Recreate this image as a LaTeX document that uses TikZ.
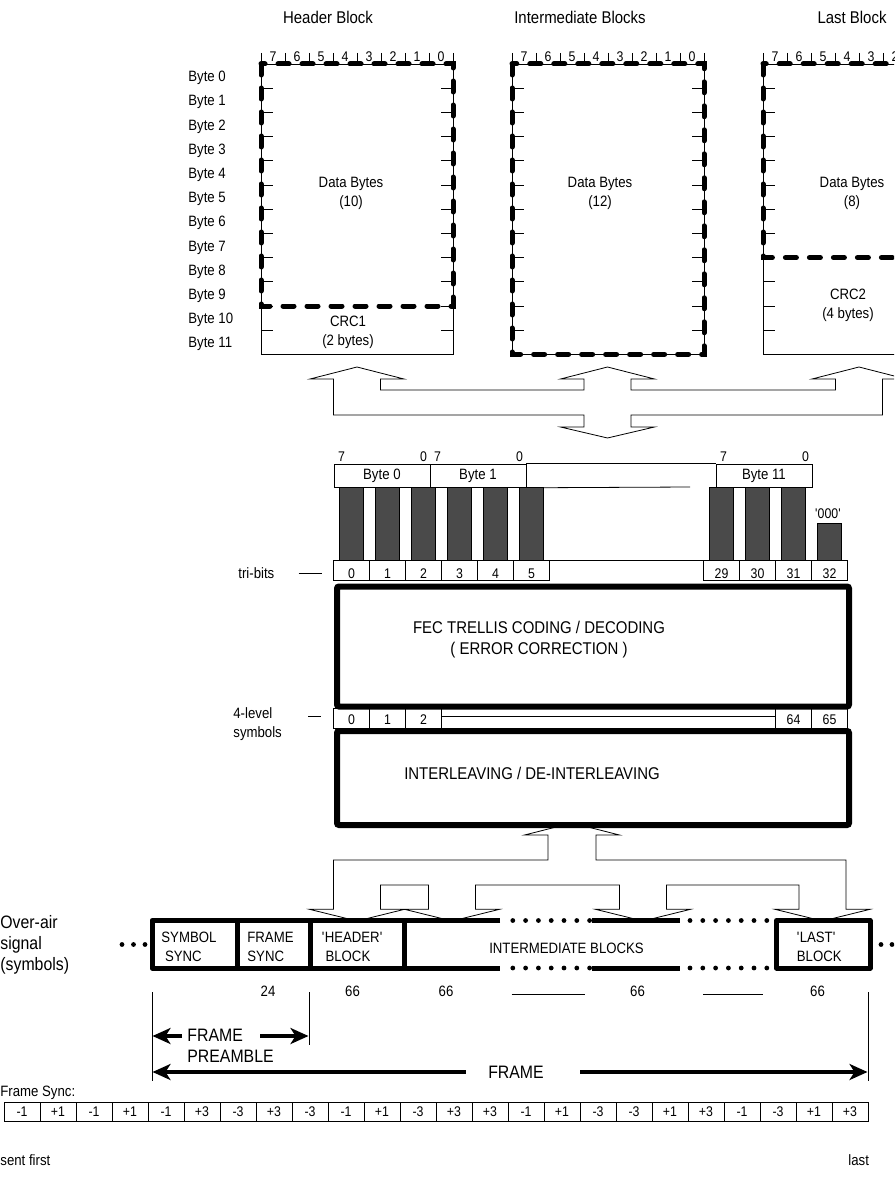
\documentclass[tikz,border=0pt]{standalone}
\usepackage{fontspec}
\setmainfont{Liberation Sans}[FakeStretch=0.88]
\definecolor{barGray}{HTML}{4A4A4A}
\usetikzlibrary{arrows.meta}

\begin{document}
\begin{tikzpicture}[x=1pt, y=-1pt, line width=0.8pt,
  txt/.style={font=\fontsize{15}{19}\selectfont, inner sep=0pt, align=center},
  ttl/.style={font=\fontsize{17}{20}\selectfont, inner sep=0pt},
  big/.style={font=\fontsize{18}{21}\selectfont, inner sep=0pt, align=left},
  boxtxt/.style={font=\fontsize{17}{21}\selectfont, inner sep=0pt, align=center},
  num/.style={font=\fontsize{14}{16}\selectfont, inner sep=0pt},
  dsh/.style={line width=5pt, dash pattern=on 11pt off 13pt, line cap=round},
  thk/.style={draw, line width=6pt, rounded corners=2pt, inner sep=0pt,
              anchor=north west, minimum width=512},
  frm/.style={line width=5pt, line join=round},
  hollow/.style={draw, fill=white, line width=0.8pt},
  bar/.style={draw, fill=barGray, line width=0.6pt},
  bytebox/.style={txt, draw, minimum width=96, minimum height=23.5, anchor=north west},
  dimarr/.style={line width=3.5pt, -{Stealth[length=18pt, width=16pt, inset=5pt]}}]
  \useasboundingbox (0,0) rectangle (894,1198);
  \clip (0,0) rectangle (894,1198);

  \node[ttl] (tHdr) at (328,17) {Header Block};
  \node[ttl] (tMid) at (580,17) {Intermediate Blocks};
  \node[ttl] (tLst) at (852,17) {Last Block};

  \foreach \k in {0,...,11}
    \node[txt, anchor=west] (row\k) at (188,78.1+24.2*\k) {Byte \k};

  \foreach \bx in {261,512,763} {
    \draw (\bx,64) rectangle ++(192,290.4);
    \foreach \k in {1,...,11}
      \draw (\bx,64+24.2*\k) -- ++(12,0) (\bx+192,64+24.2*\k) -- ++(-12,0);
    \foreach \j in {0,...,8}
      \draw (\bx+24*\j,53) -- ++(0,11);
    \foreach \j [evaluate=\j as \b using int(7-\j)] in {0,...,7}
      \node[num, anchor=base] (bit\bx-\j) at (\bx+24*\j+12,62) {\b};
  }
  \draw[dsh] (261,64) rectangle (453,306);
  \draw[dsh] (512,64) rectangle (704,354.4);
  \draw[dsh] (763,64) rectangle (955,257.6);

  \node[txt] (dHdr) at (351,193) {Data Bytes\\(10)};
  \node[txt] (dMid) at (600,193) {Data Bytes\\(12)};
  \node[txt] (dLst) at (852,193) {Data Bytes\\(8)};
  \node[txt] (crc1) at (348,332.5) {CRC1\\(2 bytes)};
  \node[txt] (crc2) at (848,305) {CRC2\\(4 bytes)};

  \draw[hollow] (357,367) -- (404,379) -- (380.5,379) -- (380.5,390) -- (584,390)
    -- (584,379) -- (560.5,379) -- (607.5,367) -- (654.5,379) -- (631,379)
    -- (631,390) -- (835.5,390) -- (835.5,379) -- (812,379) -- (859,367)
    -- (906,379) -- (882.5,379) -- (882.5,415) -- (631,415) -- (631,427)
    -- (654.5,427) -- (607.5,438) -- (560.5,427) -- (584,427) -- (584,415)
    -- (333.5,415) -- (333.5,379) -- (310,379) -- cycle;

  \node[bytebox] (byte0) at (333.5,463.5) {Byte 0};
  \node[bytebox] (byte1) at (429.5,463.5) {Byte 1};
  \node[bytebox] (byte11) at (715.5,463.5) {Byte 11};
  \draw (byte1.north east) -- (byte11.north west);
  \draw (byte1.south east) -- (690,487);
  \foreach \x/\t [count=\n] in {341.5/7,423.5/0,437.5/7,519.5/0,723.5/7,805.5/0}
    \node[num, anchor=base] (msb\n) at (\x,461.5) {\t};

  \foreach \i in {0,...,5} {
    \draw[bar] (339.5+36*\i,487.5) rectangle ++(24,72.5);
    \draw (333.5+36*\i,560) rectangle ++(36,20.5);
    \node[num, anchor=base] (tri\i) at (351.5+36*\i,578) {\i};
  }
  \foreach \i in {29,...,32} {
    \draw (703.5+36*\i-1044,560) rectangle ++(36,20.5);
    \node[num, anchor=base] (tri\i) at (721.5+36*\i-1044,578) {\i};
  }
  \foreach \i in {29,30,31}
    \draw[bar] (709.5+36*\i-1044,487.5) rectangle ++(24,72.5);
  \draw[bar] (817.5,523.5) rectangle (841.5,560);
  \node[num] (pad) at (828,514) {\textquotesingle 000\textquotesingle};
  \draw (549.5,560) -- (703.5,560);
  \node[txt, anchor=west] (tribits) at (238,573) {tri-bits};
  \draw ([xshift=24pt]tribits.east) -- ++(23.5,0);

  \node[thk, minimum height=120] (fec) at (334,583.5) {};
  \node[boxtxt] (fecTxt) at (539,640) {FEC TRELLIS CODING / DECODING\\( ERROR CORRECTION )};

  \draw (333.5,708.5) -- (847.5,708.5) (441.5,716) -- (775.5,716);
  \foreach \i/\x in {0/333.5,1/369.5,2/405.5,64/775.5,65/811.5} {
    \draw (\x,708.5) rectangle ++(36,19.5);
    \node[num, anchor=base] (sym\i) at (\x+18,724.5) {\i};
  }
  \node[txt, anchor=west, align=left] (lvl) at (233,724.5) {4-level\\symbols};
  \draw (308,716) -- (321,716);

  \draw[hollow] (572,823) -- (619.5,835) -- (596,835) -- (596,860) -- (846,860)
    -- (846,909.3) -- (870,909.3) -- (822.5,921) -- (775,909.3) -- (799,909.3)
    -- (799,885) -- (666.5,885) -- (666.5,909.3) -- (690.5,909.3) -- (643,921)
    -- (595.5,909.3) -- (619.5,909.3) -- (619.5,885) -- (475.5,885) -- (475.5,909.3)
    -- (499.5,909.3) -- (452,921) -- (404.5,909.3) -- (428.5,909.3) -- (428.5,885)
    -- (380.5,885) -- (380.5,909.3) -- (404.5,909.3) -- (357,921) -- (309.5,909.3)
    -- (333.5,909.3) -- (333.5,860) -- (548,860) -- (548,835) -- (524.5,835) -- cycle;

  \node[thk, minimum height=94] (ilv) at (334,728) {};
  \node[boxtxt] (ilvTxt) at (532,773) {INTERLEAVING / DE-INTERLEAVING};

  \draw[frm] (500,920.5) -- (152,920.5) -- (152,968) -- (500,968);
  \draw[frm] (237,920.5) -- (237,968) (310,920.5) -- (310,968) (404,920.5) -- (404,968);
  \draw[frm] (592,920.5) -- (680,920.5) (592,968) -- (680,968);
  \draw[frm] (776.5,920.5) rectangle (870,968);
  \foreach \k in {1,...,7}
    \fill (500+12.8*\k,920.5) circle[radius=2.4pt] (500+12.8*\k,968) circle[radius=2.4pt];
  \foreach \k in {0,...,6}
    \fill (690+12.8*\k,920.5) circle[radius=2.4pt] (690+12.8*\k,968) circle[radius=2.4pt];
  \foreach \x in {122,133.5,145,881,892}
    \fill (\x,944.5) circle[radius=2.4pt];

  \node[big, anchor=west] (air) at (0,945) {Over-air\\signal\\(symbols)};
  \node[txt, anchor=west, align=left] (symSync) at (161,946.5) {SYMBOL\\\ SYNC};
  \node[txt, anchor=west, align=left] (frmSync) at (247,946.5) {FRAME\\SYNC};
  \node[txt, anchor=west, align=left] (hdrBlk) at (321.5,946.5) {\textquotesingle HEADER\textquotesingle\\\ BLOCK};
  \node[txt] (midBlk) at (566.5,948) {INTERMEDIATE BLOCKS};
  \node[txt, anchor=west, align=left] (lstBlk) at (796.5,946.5) {\textquotesingle LAST\textquotesingle\\BLOCK};

  \foreach \x/\t [count=\n] in {268/24,352.5/66,446/66,637.5/66,817.5/66}
    \node[txt] (len\n) at (\x,991) {\t};
  \draw (511.5,994) -- (585,994) (703,994) -- (763,994);
  \draw (152,992) -- (152,1081) (309,992) -- (309,1045) (868,992) -- (868,1081);

  \node[big, anchor=west] (pre) at (187,1046) {FRAME\\PREAMBLE};
  \coordinate (preL) at (152.5,1036);
  \coordinate (preR) at (308.5,1036);
  \draw[dimarr] (182,1036) -- (preL);
  \draw[dimarr] (260,1036) -- (preR);
  \node[big, anchor=center] (frame) at (516,1072) {FRAME};
  \coordinate (frL) at (152.5,1072);
  \coordinate (frR) at (867.5,1072);
  \draw[dimarr] (frame.west) ++(-22,0) -- (frL);
  \draw[dimarr] (frame.east) ++(36,0) -- (frR);

  \node[txt, anchor=west] (fsLbl) at (0,1093) {Frame Sync:};
  \foreach \v [count=\i from 0] in {-1,+1,-1,+1,-1,+3,-3,+3,-3,-1,+1,-3,+3,+3,-1,+1,-3,-3,+1,+3,-1,-3,+1,+3} {
    \draw (4+36*\i,1102) rectangle ++(36,19);
    \node[num] (fs\i) at (22+36*\i,1112) {\v};
  }
  \node[txt, anchor=west] (first) at (0,1160) {sent first};
  \node[txt, anchor=west] (last) at (848,1160) {last};
\end{tikzpicture}
\end{document}
